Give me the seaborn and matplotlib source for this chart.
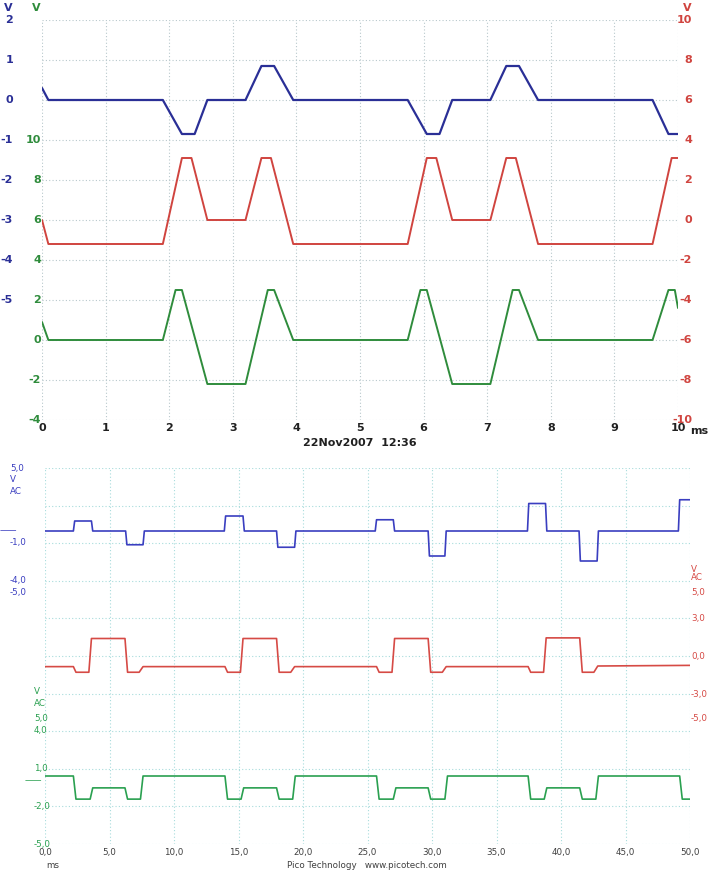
import matplotlib
matplotlib.use("Agg")
import matplotlib.pyplot as plt
import matplotlib.transforms as mtrans
import seaborn as sns
import pandas as pd

sns.set_theme(style="white")
plt.rcParams['font.family'] = ['DejaVu Sans']

# ---- top panel data (time ms, volts) ----
top_blue_t = [0, 0.1, 1.9, 2.2, 2.4, 2.6, 3.2, 3.45, 3.65, 3.95, 5.75, 6.05, 6.25, 6.45, 7.05, 7.3, 7.5, 7.8, 9.6, 9.85, 10]
top_blue_v = [0.3, 0, 0, -0.85, -0.85, 0, 0, 0.85, 0.85, 0, 0, -0.85, -0.85, 0, 0, 0.85, 0.85, 0, 0, -0.85, -0.85]
top_red_t = [0, 0.1, 1.9, 2.2, 2.35, 2.6, 3.2, 3.45, 3.6, 3.95, 5.75, 6.05, 6.2, 6.45, 7.05, 7.3, 7.45, 7.8, 9.6, 9.9, 10]
top_red_v = [0.0, -1.2, -1.2, 3.1, 3.1, 0, 0, 3.1, 3.1, -1.2, -1.2, 3.1, 3.1, 0, 0, 3.1, 3.1, -1.2, -1.2, 3.1, 3.1]
top_green_t = [0, 0.1, 1.9, 2.1, 2.2, 2.6, 3.2, 3.55, 3.65, 3.95, 5.75, 5.95, 6.05, 6.45, 7.05, 7.4, 7.5, 7.8, 9.6, 9.85, 9.95, 10]
top_green_v = [0.9, 0, 0, 2.5, 2.5, -2.2, -2.2, 2.5, 2.5, 0, 0, 2.5, 2.5, -2.2, -2.2, 2.5, 2.5, 0, 0, 2.5, 2.5, 1.6]

# ---- bottom panel data ----
bot_blue_t = [0, 2.2, 2.3, 3.6, 3.7, 6.25, 6.35, 7.6, 7.7, 13.9, 14.0, 15.35, 15.45, 17.95, 18.05, 19.35, 19.45,
              25.6, 25.7, 27.0, 27.1, 29.7, 29.8, 31.0, 31.1, 37.4, 37.5, 38.8, 38.9, 41.4, 41.5, 42.8, 42.9, 49.1, 49.2, 50]
bot_blue_v = [0, 0, 0.8, 0.8, 0, 0, -1.1, -1.1, 0, 0, 1.2, 1.2, 0, 0, -1.3, -1.3, 0,
              0, 0.9, 0.9, 0, 0, -2.0, -2.0, 0, 0, 2.2, 2.2, 0, 0, -2.4, -2.4, 0, 0, 2.5, 2.5]
bot_red_t = [0, 2.2, 2.4, 3.4, 3.6, 6.2, 6.4, 7.3, 7.6, 13.95, 14.15, 15.15, 15.35, 17.95, 18.15, 19.05, 19.35,
             25.7, 25.9, 26.9, 27.1, 29.7, 29.9, 30.8, 31.1, 37.45, 37.65, 38.65, 38.85, 41.45, 41.65, 42.55, 42.85, 50]
bot_red_v = [-0.85, -0.85, -1.3, -1.3, 1.4, 1.4, -1.3, -1.3, -0.85, -0.85, -1.3, -1.3, 1.4, 1.4, -1.3, -1.3, -0.85,
             -0.85, -1.3, -1.3, 1.4, 1.4, -1.3, -1.3, -0.85, -0.85, -1.3, -1.3, 1.45, 1.45, -1.3, -1.3, -0.8, -0.75]
bot_green_t = [0, 2.2, 2.4, 3.5, 3.7, 6.2, 6.4, 7.4, 7.6, 13.95, 14.15, 15.2, 15.4, 17.95, 18.15, 19.2, 19.4,
               25.7, 25.9, 27.0, 27.2, 29.7, 29.9, 31.0, 31.2, 37.45, 37.65, 38.7, 38.9, 41.45, 41.65, 42.7, 42.9, 49.2, 49.4, 50]
bot_green_v = [0.4, 0.4, -1.45, -1.45, -0.55, -0.55, -1.45, -1.45, 0.4, 0.4, -1.45, -1.45, -0.55, -0.55, -1.45, -1.45, 0.4,
               0.4, -1.45, -1.45, -0.55, -0.55, -1.45, -1.45, 0.4, 0.4, -1.45, -1.45, -0.55, -0.55, -1.45, -1.45, 0.4, 0.4, -1.45, -1.45]

top_x_ticks = list(range(0, 11))
bot_x_ticks = [0, 5, 10, 15, 20, 25, 30, 35, 40, 45, 50]
top_blue_labels = [2, 1, 0, -1, -2, -3, -4, -5]
top_green_labels = [10, 8, 6, 4, 2, 0, -2, -4]
top_red_labels = [10, 8, 6, 4, 2, 0, -2, -4, -6, -8, -10]

BLUE, RED, GREEN = "#2a2f96", "#d0443f", "#2f8c3c"
BLUE2, RED2, GREEN2 = "#3a3ec0", "#d64a45", "#2aa050"
W, H = 708, 873
fig = plt.figure(figsize=(W / 100, H / 100), dpi=100)

def rect(l, r, t, b):
    return [l / W, 1 - b / H, (r - l) / W, (b - t) / H]

def overlay(r, xlim, ylim):
    a = fig.add_axes(r, frameon=False)
    a.set_xlim(*xlim); a.set_ylim(*ylim)
    a.set_xticks([]); a.set_yticks([])
    a.set_xlabel(""); a.set_ylabel("")
    return a

def trace(a, t, v, color, lw):
    sns.lineplot(x=t, y=v, ax=a, color=color, lw=lw, sort=False, estimator=None)
    a.set_xlabel(""); a.set_ylabel("")

# ===== top panel =====
rt = rect(42, 678, 20, 420)
base = fig.add_axes(rt, frameon=False)
base.set_xlim(0, 10); base.set_ylim(0, 10)
for x in top_x_ticks:
    base.axvline(x, color="#b8c8cc", ls=(0, (1, 2)), lw=0.8)
for y in range(11):
    base.axhline(y, color="#b8c8cc", ls=(0, (1, 2)), lw=0.8)
base.set_xticks([]); base.set_yticks([])

ab = overlay(rt, (0, 10), (-8, 2)); trace(ab, top_blue_t, top_blue_v, BLUE, 1.6)
ar = overlay(rt, (0, 10), (-10, 10)); trace(ar, top_red_t, top_red_v, RED, 1.4)
ag = overlay(rt, (0, 10), (-4, 16)); trace(ag, top_green_t, top_green_v, GREEN, 1.4)

fs = 8
tb = mtrans.blended_transform_factory(fig.transFigure, ab.transData)
for v in top_blue_labels:
    ab.text(13 / W, v, str(v), transform=tb, color=BLUE, fontsize=fs, fontweight="bold", ha="right", va="center")
tg = mtrans.blended_transform_factory(fig.transFigure, ag.transData)
for v in top_green_labels:
    ag.text(41 / W, v, str(v), transform=tg, color=GREEN, fontsize=fs, fontweight="bold", ha="right", va="center")
tr = mtrans.blended_transform_factory(fig.transFigure, ar.transData)
for v in top_red_labels:
    ar.text(692 / W, v, str(v), transform=tr, color=RED, fontsize=fs, fontweight="bold", ha="right", va="center")
fig.text(13 / W, 1 - 8 / H, "V", color=BLUE, fontsize=fs, fontweight="bold", ha="right", va="center")
fig.text(41 / W, 1 - 8 / H, "V", color=GREEN, fontsize=fs, fontweight="bold", ha="right", va="center")
fig.text(692 / W, 1 - 8 / H, "V", color=RED, fontsize=fs, fontweight="bold", ha="right", va="center")
tx = mtrans.blended_transform_factory(base.transData, fig.transFigure)
for x in top_x_ticks:
    base.text(x, 1 - 428 / H, str(x), transform=tx, fontsize=fs, fontweight="bold", ha="center", va="center", color="#202020")
fig.text(699 / W, 1 - 431 / H, "ms", fontsize=fs, fontweight="bold", ha="center", va="center", color="#202020")
fig.text(360 / W, 1 - 443 / H, "22Nov2007  12:36", fontsize=fs, fontweight="bold", ha="center", va="center", color="#202020")

# ===== bottom panel =====
rb = rect(45, 690, 468, 844)
base2 = fig.add_axes(rb, frameon=False)
base2.set_xlim(0, 50); base2.set_ylim(0, 10)
for x in bot_x_ticks:
    base2.axvline(x, color="#a8dcdc", ls=(0, (1, 2)), lw=0.8)
for y in range(11):
    base2.axhline(y, color="#a8dcdc", ls=(0, (1, 2)), lw=0.8)
base2.set_xticks([]); base2.set_yticks([])

pxv = 12.5
def ylim_for(zero_px):
    return ((zero_px - 844) / pxv, (zero_px - 468) / pxv)

bb = overlay(rb, (0, 50), ylim_for(531)); trace(bb, bot_blue_t, bot_blue_v, BLUE2, 1.2)
br = overlay(rb, (0, 50), ylim_for(656)); trace(br, bot_red_t, bot_red_v, RED2, 1.2)
bg = overlay(rb, (0, 50), ylim_for(781)); trace(bg, bot_green_t, bot_green_v, GREEN2, 1.2)

fs2 = 6.3
def ftext(x, y, s, c, ha="left"):
    fig.text(x / W, 1 - y / H, s, color=c, fontsize=fs2, ha=ha, va="center")

for y, s in [(468, "5,0"), (479, "V"), (491, "AC"), (543, "-1,0"), (581, "-4,0"), (593, "-5,0")]:
    ftext(10, y, s, BLUE2)
ftext(0, 531, "——", BLUE2)
for y, s in [(569, "V"), (578, "AC"), (593, "5,0"), (618, "3,0"), (656, "0,0"), (694, "-3,0"), (718, "-5,0")]:
    ftext(691, y, s, RED2)
for y, s in [(691, "V"), (703, "AC"), (718, "5,0"), (731, "4,0"), (769, "1,0"), (806, "-2,0"), (844, "-5,0")]:
    ftext(34, y, s, GREEN2)
ftext(25, 781, "——", GREEN2)
tx2 = mtrans.blended_transform_factory(base2.transData, fig.transFigure)
for x in bot_x_ticks:
    base2.text(x, 1 - 853 / H, f"{x:.1f}".replace(".", ","), transform=tx2, fontsize=fs2, ha="center", va="center", color="#404040")
ftext(46, 866, "ms", "#404040")
ftext(367, 866, "Pico Technology   www.picotech.com", "#404040", ha="center")

fig.savefig("out.png", dpi=100, facecolor="white")
